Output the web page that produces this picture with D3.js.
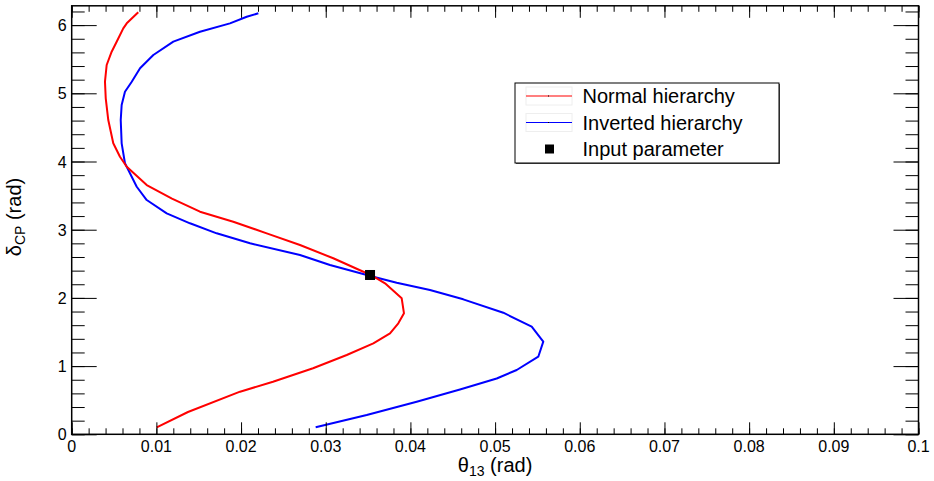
<!DOCTYPE html>
<html>
<head>
<meta charset="utf-8">
<script src="https://cdn.jsdelivr.net/npm/d3@7"></script>
<style>
  html, body { margin: 0; padding: 0; background: #fff; }
  svg { display: block; font-family: "Liberation Sans", Arial, Helvetica, sans-serif; }
</style>
</head>
<body>
<svg id="chart" width="934" height="481"></svg>
<script>
// Allowed region in (theta13, deltaCP) for each mass hierarchy
const thetaNH = [0.01004, 0.01373, 0.01988, 0.02377, 0.02850, 0.03248, 0.03562, 0.03759, 0.03857, 0.03924,
                 0.03897, 0.03700, 0.03602, 0.03523, 0.03444, 0.03089, 0.02696, 0.02303, 0.01908, 0.01515,
                 0.01184, 0.00886, 0.00650, 0.00570, 0.00491, 0.00432, 0.00402, 0.00393, 0.00413, 0.00472,
                 0.00531, 0.00609, 0.00650, 0.00786];
const deltaNH = [0.103, 0.327, 0.625, 0.771, 0.968, 1.163, 1.334, 1.481, 1.628, 1.774,
                 1.994, 2.214, 2.287, 2.336, 2.384, 2.581, 2.776, 2.947, 3.117, 3.264,
                 3.457, 3.655, 3.924, 4.070, 4.267, 4.608, 4.927, 5.170, 5.415, 5.610,
                 5.757, 5.953, 6.026, 6.188];

const thetaIH = [0.02881, 0.03484, 0.04074, 0.04585, 0.05019, 0.05255, 0.05510, 0.05569, 0.05432, 0.05097,
                 0.04624, 0.04231, 0.03838, 0.03562, 0.03050, 0.02696, 0.02106, 0.01712, 0.01397,
                 0.01122, 0.00886, 0.00768, 0.00688, 0.00629, 0.00590, 0.00579, 0.00590, 0.00629, 0.00709,
                 0.00807, 0.00964, 0.01200, 0.01515, 0.01869, 0.02067, 0.02204];
const deltaIH = [0.103, 0.283, 0.478, 0.656, 0.818, 0.943, 1.138, 1.358, 1.578, 1.783,
                 1.979, 2.116, 2.223, 2.311, 2.482, 2.629, 2.801, 2.947, 3.094,
                 3.240, 3.435, 3.630, 3.827, 3.974, 4.267, 4.608, 4.828, 5.023, 5.170,
                 5.367, 5.562, 5.757, 5.903, 6.026, 6.123, 6.173];

// True parameter point
const inputTheta = [0.03523];
const inputDelta = [2.336];

const xTickValues = [0, 0.01, 0.02, 0.03, 0.04, 0.05, 0.06, 0.07, 0.08, 0.09, 0.1];
const xTickLabels = ["0", "0.01", "0.02", "0.03", "0.04", "0.05", "0.06", "0.07", "0.08", "0.09", "0.1"];
const yTickValues = [0, 1, 2, 3, 4, 5, 6];
const yTickLabels = ["0", "1", "2", "3", "4", "5", "6"];

const legendLabels = ["Normal hierarchy", "Inverted hierarchy", "Input parameter"];
const seriesColors = ["#ff0000", "#0000ff"];

const svg = d3.select("#chart");
const frame = { left: 71.7, right: 918.5, top: 5.8, bottom: 434.3 };

const x = d3.scaleLinear().domain([0, 0.1]).range([frame.left, frame.right]);
const y = d3.scaleLinear().domain([0, 2 * Math.PI]).range([frame.bottom, frame.top]);

const labelSize = 16;
const titleSize = 20;

// Curves
const line = d3.line().x(d => x(d[0])).y(d => y(d[1]));
const nh = thetaNH.map((t, i) => [t, deltaNH[i]]);
const ih = thetaIH.map((t, i) => [t, deltaIH[i]]);

svg.append("path").datum(ih).attr("d", line)
  .attr("fill", "none").attr("stroke", seriesColors[1]).attr("stroke-width", 2).attr("stroke-linejoin", "round");
svg.append("path").datum(nh).attr("d", line)
  .attr("fill", "none").attr("stroke", seriesColors[0]).attr("stroke-width", 2).attr("stroke-linejoin", "round");

// Input marker
const ms = 10;
svg.selectAll("rect.input").data(inputTheta).enter().append("rect")
  .attr("class", "input")
  .attr("x", (d) => x(d) - ms / 2)
  .attr("y", (d, i) => y(inputDelta[i]) - ms / 2)
  .attr("width", ms).attr("height", ms).attr("fill", "#000");

// Axes with ticks on all four sides
const xMinor = d3.range(0, 0.1 + 1e-9, 0.002).map(v => +v.toFixed(4));
const yMinor = d3.range(0, 6.2 + 1e-9, 0.2).map(v => +v.toFixed(2));

function drawAxis(axis, transform) {
  const g = svg.append("g").attr("transform", transform).call(axis);
  g.select(".domain").remove();
  g.selectAll(".tick line").attr("stroke", "#000").attr("stroke-width", 1);
  return g;
}

// bottom x
drawAxis(d3.axisTop(x).tickValues(xMinor).tickSize(6).tickFormat(""), `translate(0,${frame.bottom})`);
drawAxis(d3.axisTop(x).tickValues(xTickValues).tickSize(12).tickFormat(""), `translate(0,${frame.bottom})`);
// top x
drawAxis(d3.axisBottom(x).tickValues(xMinor).tickSize(6).tickFormat(""), `translate(0,${frame.top})`);
drawAxis(d3.axisBottom(x).tickValues(xTickValues).tickSize(12).tickFormat(""), `translate(0,${frame.top})`);
// left y
drawAxis(d3.axisRight(y).tickValues(yMinor).tickSize(13).tickFormat(""), `translate(${frame.left},0)`);
drawAxis(d3.axisRight(y).tickValues(yTickValues).tickSize(25).tickFormat(""), `translate(${frame.left},0)`);
// right y
drawAxis(d3.axisLeft(y).tickValues(yMinor).tickSize(13).tickFormat(""), `translate(${frame.right},0)`);
drawAxis(d3.axisLeft(y).tickValues(yTickValues).tickSize(25).tickFormat(""), `translate(${frame.right},0)`);

// Tick labels
svg.append("g").selectAll("text").data(xTickValues).enter().append("text")
  .attr("x", d => x(d)).attr("y", frame.bottom + 17.5)
  .attr("text-anchor", "middle").attr("font-size", labelSize).attr("fill", "#000")
  .text((d, i) => xTickLabels[i]);

svg.append("g").selectAll("text").data(yTickValues).enter().append("text")
  .attr("x", frame.left - 5).attr("y", d => y(d) + 6)
  .attr("text-anchor", "end").attr("font-size", labelSize).attr("fill", "#000")
  .text((d, i) => yTickLabels[i]);

// Frame
svg.append("rect")
  .attr("x", frame.left).attr("y", frame.top)
  .attr("width", frame.right - frame.left).attr("height", frame.bottom - frame.top)
  .attr("fill", "none").attr("stroke", "#000").attr("stroke-width", 1.5);

// Axis titles
const xt = svg.append("text")
  .attr("x", (frame.left + frame.right) / 2).attr("y", 471.5)
  .attr("text-anchor", "middle").attr("font-size", titleSize).attr("fill", "#000");
xt.append("tspan").text("θ");
xt.append("tspan").attr("font-size", 14).attr("dy", 4).text("13");
xt.append("tspan").attr("dy", -4).text(" (rad)");

const yt = svg.append("text")
  .attr("transform", `translate(21,217) rotate(-90)`)
  .attr("text-anchor", "middle").attr("font-size", titleSize).attr("fill", "#000");
yt.append("tspan").text("δ");
yt.append("tspan").attr("font-size", 14).attr("dy", 4).text("CP");
yt.append("tspan").attr("dy", -4).text(" (rad)");

// Legend
const lg = { x: 515, y: 83, w: 264, h: 80 };
svg.append("rect").attr("x", lg.x + 1).attr("y", lg.y + 1).attr("width", lg.w).attr("height", lg.h)
  .attr("fill", "#555");
svg.append("rect").attr("x", lg.x).attr("y", lg.y).attr("width", lg.w).attr("height", lg.h)
  .attr("fill", "#fff").attr("stroke", "#000").attr("stroke-width", 1);

const rowY = [96, 122.5, 149];
const legendG = svg.append("g");
legendLabels.forEach((lab, i) => {
  if (i < 2) {
    legendG.append("rect").attr("x", 526).attr("y", rowY[i] - 9).attr("width", 46).attr("height", 18)
      .attr("fill", "none").attr("stroke", "#eeeeee").attr("stroke-width", 1);
    legendG.append("line").attr("x1", 526).attr("x2", 572).attr("y1", rowY[i]).attr("y2", rowY[i])
      .attr("stroke", seriesColors[i]).attr("stroke-width", 1.2);
    legendG.append("rect").attr("x", 548).attr("y", rowY[i] - 0.5).attr("width", 1).attr("height", 1).attr("fill", "#000");
  } else {
    legendG.append("rect").attr("x", 549.5 - 4.5).attr("y", rowY[i] - 4.5).attr("width", 9).attr("height", 9).attr("fill", "#000");
  }
  legendG.append("text").attr("x", 582.5).attr("y", rowY[i] + 7)
    .attr("font-size", titleSize).attr("fill", "#000").text(lab);
});
</script>
</body>
</html>
